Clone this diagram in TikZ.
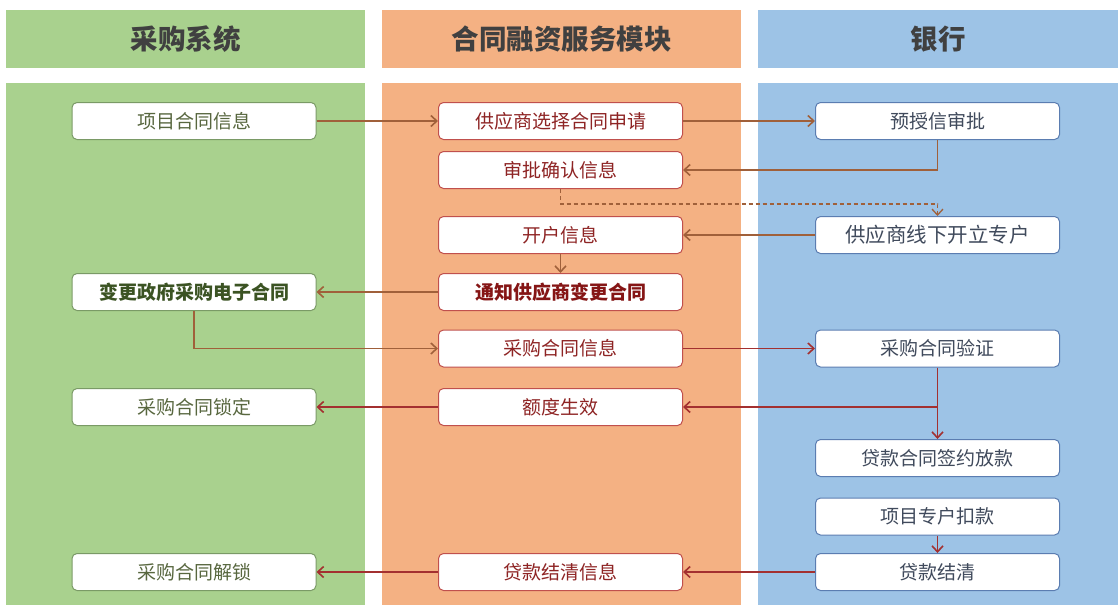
\documentclass[tikz,border=0pt]{standalone}
\usepackage{fontspec}
\setmainfont{Noto Sans CJK SC}
\usepackage{xcolor}
\usetikzlibrary{arrows.meta}

\definecolor{greenpanel}{HTML}{A9D18E}
\definecolor{orangepanel}{HTML}{F4B183}
\definecolor{bluepanel}{HTML}{9DC3E6}
\definecolor{headgray}{HTML}{404040}
\definecolor{gborder}{HTML}{7A9A66}
\definecolor{gtext}{HTML}{58673F}
\definecolor{gbold}{HTML}{3B5323}
\definecolor{oborder}{HTML}{C0504D}
\definecolor{otext}{HTML}{8E2424}
\definecolor{obold}{HTML}{851515}
\definecolor{bborder}{HTML}{5B7DB1}
\definecolor{btext}{HTML}{404A5C}
\definecolor{arrowbrown}{HTML}{A0603A}
\definecolor{arrowred}{HTML}{A33030}

\begin{document}
\begin{tikzpicture}[
    x=1pt, y=-1pt,
    font=\fontsize{19}{22}\selectfont,
    head/.style={rectangle, minimum width=359pt, minimum height=58pt, inner sep=0pt, text=headgray, font=\fontsize{27.5}{30}\selectfont\bfseries},
    box/.style={rectangle, rounded corners=5pt, draw, fill=white, line width=1pt, minimum width=244pt, minimum height=37pt, inner sep=0pt},
    gbox/.style={box, draw=gborder, text=gtext},
    obox/.style={box, draw=oborder, text=otext},
    bbox/.style={box, draw=bborder, text=btext},
    arrow/.style={-{Straight Barb[length=6pt,width=11pt]}, line width=1.6pt},
    brownarrow/.style={arrow, draw=arrowbrown},
    redarrow/.style={arrow, draw=arrowred}
]
\useasboundingbox (0,0) rectangle (1118,605);

% Swimlanes
\fill[greenpanel] (6,83) rectangle (365,605);
\fill[orangepanel] (382,83) rectangle (741,605);
\fill[bluepanel] (758,83) rectangle (1118,605);

\node[head, fill=greenpanel] (caigou) at (185.5,39) {采购系统};
\node[head, fill=orangepanel] (rongzi) at (561.5,39) {合同融资服务模块};
\node[head, fill=bluepanel, minimum width=360pt] (yinhang) at (938,39) {银行};

% Procurement system
\node[gbox] (xmht) at (194,121) {项目合同信息};
\node[gbox, text=gbold, font=\fontsize{19}{22}\selectfont\bfseries] (bght) at (194,292) {变更政府采购电子合同};
\node[gbox] (cgsd) at (194,407) {采购合同锁定};
\node[gbox] (cgjs) at (194,572) {采购合同解锁};

% Financing module
\node[obox] (htsq) at (560.5,121) {供应商选择合同申请};
\node[obox] (spqr) at (560.5,170) {审批确认信息};
\node[obox] (khxx) at (560.5,235) {开户信息};
\node[obox, text=obold, font=\fontsize{19}{22}\selectfont\bfseries] (tzbg) at (560.5,292) {通知供应商变更合同};
\node[obox] (cgxx) at (560.5,348.5) {采购合同信息};
\node[obox] (edsx) at (560.5,407) {额度生效};
\node[obox] (jqxx) at (560.5,572) {贷款结清信息};

% Bank
\node[bbox] (ysx) at (937.5,121) {预授信审批};
\node[bbox, font=\fontsize{20.5}{24}\selectfont] (zhkl) at (937.5,235) {供应商线下开立专户};
\node[bbox] (cgyz) at (937.5,348.5) {采购合同验证};
\node[bbox] (qyfk) at (937.5,458) {贷款合同签约放款};
\node[bbox] (zhkk) at (937.5,516.5) {项目专户扣款};
\node[bbox] (dkjq) at (937.5,572) {贷款结清};

% Arrows
\draw[brownarrow] (xmht) -- (htsq);
\draw[brownarrow] (htsq) -- (ysx);
\draw[brownarrow] (ysx.south) |- (spqr.east);
\draw[brownarrow, line width=1.3pt, dash pattern=on 4pt off 3pt] (spqr.south) -- ++(0,15) -| (zhkl.north);
\draw[brownarrow] (zhkl) -- (khxx);
\draw[brownarrow] (khxx) -- (tzbg);
\draw[brownarrow] (tzbg) -- (bght);
\draw[brownarrow] (bght.south) |- (cgxx.west);

\draw[redarrow] (cgxx) -- (cgyz);
\draw[redarrow] (cgyz) -- (qyfk);
\coordinate (fork) at (cgyz.south |- edsx.east);
\draw[redarrow] (fork) -- (edsx);
\draw[redarrow] (edsx) -- (cgsd);
\draw[redarrow] (zhkk) -- (dkjq);
\draw[redarrow] (dkjq) -- (jqxx);
\draw[redarrow] (jqxx) -- (cgjs);

\end{tikzpicture}
\end{document}
